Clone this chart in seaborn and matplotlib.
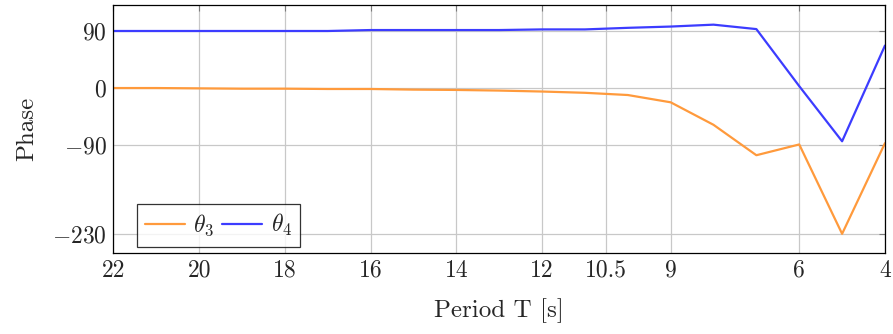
import numpy as np
import pandas as pd
import seaborn as sns
import matplotlib.pyplot as plt

sns.set_style("white")
plt.rcParams["font.family"] = "cmr10"
plt.rcParams["mathtext.fontset"] = "cm"
plt.rcParams["axes.formatter.use_mathtext"] = True
plt.rcParams["font.size"] = 17

# Period values (s) and phases
period = [22, 21, 20, 19, 18, 17, 16, 15, 14, 13, 12, 11, 10, 9, 8, 7, 6, 5, 4]
theta3 = [0, 0, -0.5, -1, -1, -1.5, -1.5, -2.5, -3, -4, -5.5, -7.5, -11, -22.5, -58, -106, -89, -230, -87]
theta4 = [90, 90, 90, 90, 90, 90, 91.5, 91.5, 91.5, 91.5, 92.5, 92.5, 95, 97, 100, 93, 3, -84, 67]

xticks = [22, 20, 18, 16, 14, 12, 10.5, 9, 6, 4]
xtick_labels = ["22", "20", "18", "16", "14", "12", "10.5", "9", "6", "4"]
yticks = [90, 0, -90, -230]
ytick_labels = ["$90$", "$0$", "$-90$", "$-230$"]

df = pd.DataFrame({
    "T": period * 2,
    "phase": theta3 + theta4,
    "series": [r"$\theta_3$"] * len(period) + [r"$\theta_4$"] * len(period),
})

fig, ax = plt.subplots(figsize=(8.93, 3.34), dpi=100)
sns.lineplot(data=df, x="T", y="phase", hue="series", ax=ax,
             palette=["#ff9a3c", "#3c3cff"], linewidth=1.6)

ax.set_xlim(22, 4)
ax.set_ylim(-260, 131)
ax.set_xticks(xticks)
ax.set_xticklabels(xtick_labels)
ax.set_yticks(yticks)
ax.set_yticklabels(ytick_labels)
ax.grid(True, color="#c8c8c8", linewidth=0.9)
ax.tick_params(direction="in", top=True, right=True, length=4, color="#7a7a7a",
               labelsize=17, pad=5)
for s in ax.spines.values():
    s.set_color("black")
    s.set_linewidth(0.9)

ax.set_xlabel("Period T [s]", fontsize=18, labelpad=12)
ax.set_ylabel("Phase", fontsize=18, labelpad=10)

leg = ax.legend(loc="lower left", ncol=2, bbox_to_anchor=(0.03, 0.025), borderaxespad=0,
                fontsize=17, frameon=True, fancybox=False, edgecolor="black",
                handlelength=1.7, columnspacing=0.35, handletextpad=0.35, borderpad=0.35)
leg.get_frame().set_linewidth(0.9)

plt.subplots_adjust(left=0.127, right=0.991, top=0.985, bottom=0.243)
plt.savefig("out.png", dpi=100)
plt.close()
